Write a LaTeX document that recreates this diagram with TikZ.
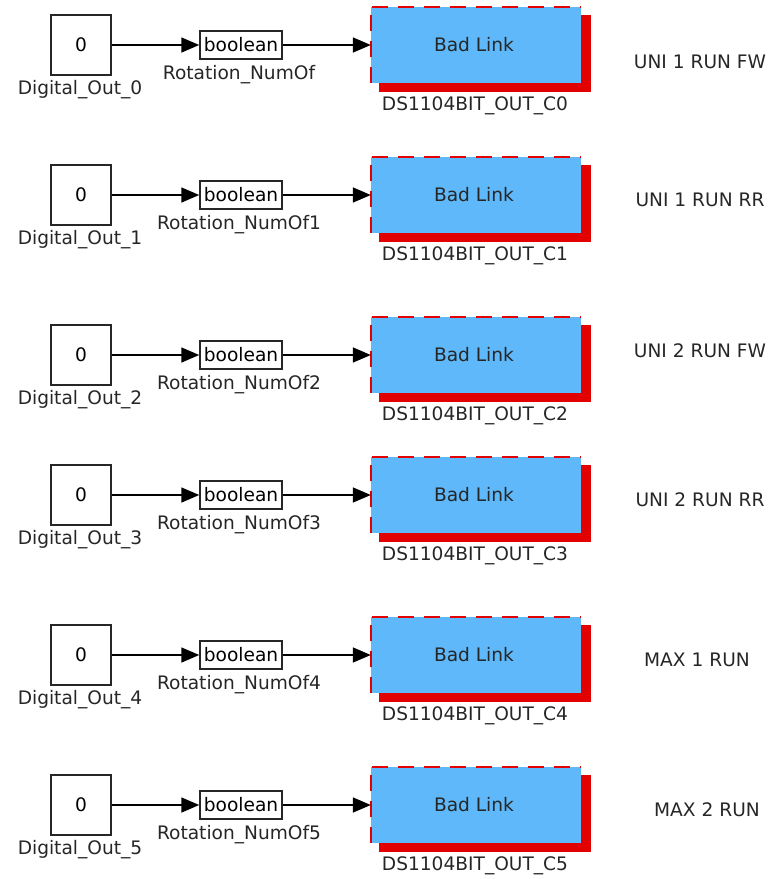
\documentclass[tikz,border=0pt]{standalone}
\usepackage{fontspec}
\setmainfont{DejaVu Sans}
\usetikzlibrary{arrows.meta}
\definecolor{linkblue}{RGB}{94,184,250}
\definecolor{linkred}{RGB}{226,0,0}
\tikzset{
  txt/.style={font=\fontsize{18.6}{21}\selectfont, text=black!85, inner sep=0pt},
  constbox/.style={draw=black!85, line width=1.5pt, minimum width=60pt, minimum height=60pt, inner sep=0pt, font=\fontsize{18.6}{21}\selectfont},
  convbox/.style={draw=black!85, line width=1.5pt, minimum width=82pt, minimum height=28pt, inner sep=0pt, font=\fontsize{18.6}{21}\selectfont},
  sig/.style={draw=black, line width=1.6pt, -{Triangle[length=18pt,width=15pt]}},
}
\begin{document}
\begin{tikzpicture}[x=1pt,y=-1pt]
\useasboundingbox (0,0) rectangle (771,879);
\foreach \i/\y/\rot/\lab/\lx/\ly in {
  0/45//UNI 1 RUN FW/700/62,
  1/195/1/UNI 1 RUN RR/700/200,
  2/355/2/UNI 2 RUN FW/700/351,
  3/495/3/UNI 2 RUN RR/700/500,
  4/655/4/MAX 1 RUN/697/660,
  5/805/5/MAX 2 RUN/707/810}{
  \node[constbox] (c\i) at (81,\y) {0};
  \node[txt] (dl\i) at (80,\y+45) {Digital\_Out\_\i};
  \node[convbox] (v\i) at (241,\y) {boolean};
  \node[txt] (rl\i) at (239,\y+30) {Rotation\_NumOf\rot};
  \fill[linkred] (379,\y-30) rectangle (591,\y+47);
  \node[fill=linkblue, minimum width=210pt, minimum height=76pt, inner sep=0pt] (b\i) at (476,\y) {};
  \draw[linkred, line width=2pt, dash pattern=on 16pt off 10pt] (b\i.south west) -- (b\i.north west) -- (b\i.north east);
  \node[txt] at (474,\y) {Bad Link};
  \node[txt] (ol\i) at (475,\y+61) {DS1104BIT\_OUT\_C\i};
  \node[txt] (ul\i) at (\lx,\ly) {\lab};
  \draw[sig] (c\i.east) -- (v\i.west);
  \draw[sig] (v\i.east) -- (b\i.west);
}
\end{tikzpicture}
\end{document}
